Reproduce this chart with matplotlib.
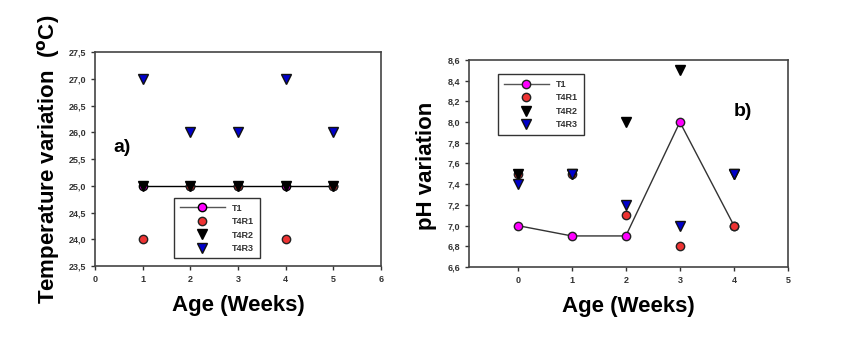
import numpy as np
import matplotlib
matplotlib.use("Agg")
import matplotlib.pyplot as plt
from matplotlib.ticker import FuncFormatter

plt.rcParams['font.family'] = ['Liberation Sans', 'DejaVu Sans']

# datos panel a) temperatura
sem_a = [1, 2, 3, 4, 5]
temp_T1 = [25.0, 25.0, 25.0, 25.0, 25.0]
temp_T4R1 = [24.0, 25.0, 25.0, 24.0, 25.0]
temp_T4R2 = [25.0, 25.0, 25.0, 25.0, 25.0]
temp_T4R3 = [27.0, 26.0, 26.0, 27.0, 26.0]
yticks_a = [23.5, 24.0, 24.5, 25.0, 25.5, 26.0, 26.5, 27.0, 27.5]
xticks_a = [0, 1, 2, 3, 4, 5, 6]

# datos panel b) pH
sem_b = [0, 1, 2, 3, 4]
ph_T1 = [7.0, 6.9, 6.9, 8.0, 7.0]
ph_T4R1 = [7.5, 7.5, 7.1, 6.8, 7.0]
ph_T4R2 = [7.5, 7.5, 8.0, 8.5, 7.5]
ph_T4R3 = [7.4, 7.5, 7.2, 7.0, 7.5]
yticks_b = [6.6, 6.8, 7.0, 7.2, 7.4, 7.6, 7.8, 8.0, 8.2, 8.4, 8.6]
xticks_b = [0, 1, 2, 3, 4, 5]

coma = FuncFormatter(lambda v, p: ("%.1f" % v).replace(".", ","))
gris = "#333333"


def estilo(ax):
    for s in ax.spines.values():
        s.set_color("#444444")
        s.set_linewidth(1.2)
    ax.tick_params(labelsize=6.5, colors=gris, length=3, width=1, direction="out",
                   top=False, right=False)
    for lab in ax.get_xticklabels() + ax.get_yticklabels():
        lab.set_fontweight("bold")


def leyenda(ax, **kw):
    leg = ax.legend(fontsize=6.5, frameon=True, fancybox=False, edgecolor="black",
                    handlelength=5, labelspacing=0.5, borderpad=0.6, **kw)
    leg.get_frame().set_linewidth(1)
    leg.get_lines()[0].set_color('#555555')
    for t in leg.get_texts():
        t.set_fontweight("bold")
        t.set_color(gris)
    return leg


fig = plt.figure(figsize=(8.57, 3.38), dpi=100)

# panel a)
ax1 = fig.add_axes([0.1109, 0.213, 0.3337, 0.633])
ax1.plot(sem_a, temp_T1, '-o', color='black', mfc='#ff00ff', mec='black', ms=6, lw=1, label='T1')
ax1.plot(sem_a, temp_T4R1, 'o', mfc='#ee3333', mec='#222222', ms=6, ls='none', label='T4R1')
ax1.plot(sem_a, temp_T4R2, 'v', mfc='black', mec='black', ms=6.5, ls='none', label='T4R2')
ax1.plot(sem_a, temp_T4R3, 'v', mfc='#0000cc', mec='#111111', ms=6.5, ls='none', label='T4R3')
ax1.set_xlim(0, 6)
ax1.set_ylim(23.5, 27.5)
ax1.set_xticks(xticks_a)
ax1.set_yticks(yticks_a)
ax1.yaxis.set_major_formatter(coma)
estilo(ax1)
ax1.set_xlabel("Age (Weeks)", fontsize=16, fontweight="bold")
ax1.xaxis.set_label_coords(0.5, -0.135)
ax1.set_ylabel(r"Temperature variation  ($^{\mathbf{o}}$C)", fontsize=16, fontweight="bold")
ax1.yaxis.set_label_coords(-0.115, 0.5)
ax1.text(0.57, 25.72, "a)", fontsize=14, fontweight="bold", ha="center", va="center")
leyenda(ax1, loc="lower left", bbox_to_anchor=(0.262, 0.014))

# panel b)
ax2 = fig.add_axes([0.5473, 0.2101, 0.3722, 0.6124])
ax2.plot(sem_b, ph_T1, '-o', color='#333333', mfc='#ff00ff', mec='#222222', ms=6, lw=1, label='T1')
ax2.plot(sem_b, ph_T4R1, 'o', mfc='#ee3333', mec='#222222', ms=6, ls='none', label='T4R1')
ax2.plot(sem_b, ph_T4R2, 'v', mfc='black', mec='black', ms=6.5, ls='none', label='T4R2')
ax2.plot(sem_b, ph_T4R3, 'v', mfc='#0000cc', mec='#111111', ms=6.5, ls='none', label='T4R3')
ax2.set_xlim(-0.9, 5)
ax2.set_ylim(6.6, 8.6)
ax2.set_xticks(xticks_b)
ax2.set_yticks(yticks_b)
ax2.yaxis.set_major_formatter(coma)
estilo(ax2)
ax2.set_xlabel("Age (Weeks)", fontsize=16, fontweight="bold")
ax2.xaxis.set_label_coords(0.5, -0.14)
ax2.set_ylabel("pH variation", fontsize=16, fontweight="bold")
ax2.yaxis.set_label_coords(-0.10, 0.49)
ax2.text(4.17, 8.1, "b)", fontsize=14, fontweight="bold", ha="center", va="center")
leyenda(ax2, loc="upper left", bbox_to_anchor=(0.078, 0.952))

plt.savefig("out.png", dpi=100)
